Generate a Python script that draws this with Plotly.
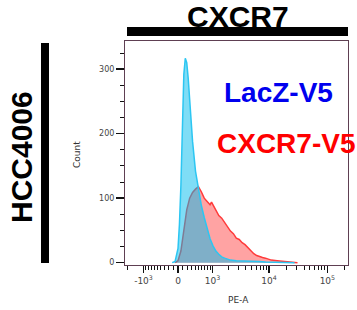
import numpy as np
import plotly.graph_objects as go

# ---------------- data (histogram bins in biexponential display units) ----------------
lacz_channel = [-0.10, -0.05, 0.00, 0.025, 0.05, 0.075, 0.10, 0.125, 0.15, 0.175, 0.20,
                0.225, 0.25, 0.30, 0.35, 0.40, 0.45, 0.50, 0.55, 0.60, 0.65, 0.70, 0.75,
                0.80, 0.85, 0.90, 1.00, 1.10, 1.20, 1.30, 1.40, 1.50, 1.60, 1.70, 1.80,
                1.90, 2.00]
lacz_count = [0, 2, 22, 60, 120, 225, 292, 317, 310, 286, 250,
              218, 188, 142, 113, 89, 70, 52, 37, 26, 18, 13, 9,
              7, 5, 4, 3, 3, 2, 2, 2, 1, 1, 1, 1,
              0, 0]

cxcr7_channel = [-0.05, 0.00, 0.05, 0.10, 0.15, 0.20, 0.25, 0.30, 0.35, 0.40, 0.45,
                 0.50, 0.55, 0.575, 0.60, 0.65, 0.70, 0.75, 0.80, 0.85, 0.90, 0.95,
                 1.00, 1.05, 1.10, 1.15, 1.20, 1.25, 1.30, 1.35, 1.40, 1.45, 1.50,
                 1.55, 1.60, 1.70, 1.80, 1.90, 2.00, 2.05]
cxcr7_count = [0, 3, 18, 48, 82, 100, 109, 114, 118, 110, 100,
               95, 90, 94, 90, 80, 73, 69, 62, 55, 49, 45,
               38, 36, 31, 28, 23, 19, 14, 11, 9, 8, 7,
               5, 4, 3, 2, 2, 1, 0]

major_values = [-1000, 0, 1000, 10000, 100000]
major_labels = ["-10<sup>3</sup>", "0", "10<sup>3</sup>", "10<sup>4</sup>", "10<sup>5</sup>"]
minor_values = ([-k * 1000 for k in range(2, 10)] + [-k * 100 for k in range(1, 10)] +
                [k * 100 for k in range(1, 10)] + [k * 1000 for k in range(2, 10)] +
                [k * 10000 for k in range(2, 10)] + [200000])

# biexponential display transform (axis definition)
WIDTH = 274.0
def biex(v):
    return np.arcsinh(np.asarray(v, dtype=float) / (2 * WIDTH)) / np.log(10)

# ---------------- figure ----------------
FW, FH = 357, 310
L, R, T, B = 125, 348, 41, 265

def px(x):
    return (x - L) / (R - L)

def py(y):
    return (B - y) / (B - T)

fig = go.Figure()
fig.add_trace(go.Scatter(
    x=cxcr7_channel, y=cxcr7_count, mode="lines", fill="tozeroy",
    fillcolor="#ffa3a3", line=dict(color="#ff3b3b", width=1.5),
    showlegend=False, hoverinfo="skip"))
fig.add_trace(go.Scatter(
    x=lacz_channel, y=lacz_count, mode="lines", fill="tozeroy",
    fillcolor="rgba(0,188,238,0.5)", line=dict(color="#2cc6f2", width=1.5),
    showlegend=False, hoverinfo="skip"))

frame_col = "#5e3f52"
ytick_font = dict(family="DejaVu Sans", size=8, color="#444444")
xtick_font = dict(family="DejaVu Sans", size=9, color="#444444")

fig.update_layout(
    width=FW, height=FH,
    margin=dict(l=L, r=FW - R, t=T, b=FH - B, autoexpand=False),
    paper_bgcolor="white", plot_bgcolor="white",
    xaxis=dict(
        range=[-0.909, 2.916], showgrid=False, zeroline=False, automargin=False,
        showline=True, mirror=True, linecolor=frame_col, linewidth=1,
        tickmode="array", tickvals=list(biex(major_values)), ticktext=major_labels,
        ticks="outside", ticklen=7, tickwidth=1.5, tickcolor="#111111",
        tickfont=xtick_font,
        minor=dict(tickmode="array", tickvals=list(biex(minor_values)),
                   ticks="outside", ticklen=4, tickwidth=1, tickcolor="#111111"),
    ),
    yaxis=dict(
        range=[-3.6, 343.7], showgrid=False, zeroline=False, automargin=False,
        showline=True, mirror=True, linecolor=frame_col, linewidth=1,
        tickmode="array", tickvals=[0, 100, 200, 300],
        ticks="outside", ticklen=8, tickwidth=1.5, tickcolor="#111111",
        tickfont=ytick_font,
        minor=dict(dtick=25, ticks="outside", ticklen=4, tickwidth=1, tickcolor="#111111"),
    ),
    font=dict(family="Liberation Sans"),
)

# black bars
fig.add_shape(type="rect", xref="paper", yref="paper",
              x0=px(127), x1=px(348), y0=py(36), y1=py(27),
              fillcolor="black", line=dict(width=0), layer="above")
fig.add_shape(type="rect", xref="paper", yref="paper",
              x0=px(41), x1=px(49), y0=py(263), y1=py(43),
              fillcolor="black", line=dict(width=0), layer="above")

axis_title_font = dict(family="DejaVu Sans", size=9, color="#333333")
fig.add_annotation(text="Count", xref="paper", yref="paper",
                   x=px(77), y=py(155), xanchor="center", yanchor="middle",
                   textangle=-90, showarrow=False, font=axis_title_font)
fig.add_annotation(text="PE-A", xref="paper", yref="paper",
                   x=px(238), y=py(300), xanchor="center", yanchor="middle",
                   showarrow=False, font=axis_title_font)

big = dict(family="Liberation Sans", size=30, color="black")
fig.add_annotation(text="<b>CXCR7</b>", xref="paper", yref="paper",
                   x=px(238), y=py(16), xanchor="center", yanchor="middle",
                   showarrow=False, font=big)
fig.add_annotation(text="<b>HCC4006</b>", xref="paper", yref="paper",
                   x=px(21), y=py(157), xanchor="center", yanchor="middle",
                   textangle=-90, showarrow=False, font=big)
fig.add_annotation(text="<b>LacZ-V5</b>", xref="paper", yref="paper",
                   x=px(278), y=py(93), xanchor="center", yanchor="middle",
                   showarrow=False,
                   font=dict(family="Liberation Sans", size=28, color="#0000ee"))
fig.add_annotation(text="<b>CXCR7-V5</b>", xref="paper", yref="paper",
                   x=px(286), y=py(143), xanchor="center", yanchor="middle",
                   showarrow=False,
                   font=dict(family="Liberation Sans", size=28, color="#ff0000"))

fig.write_html("out.html",
               config={"displayModeBar": False, "staticPlot": True},
               post_script="document.body.style.margin='0';document.body.style.overflow='hidden';")
